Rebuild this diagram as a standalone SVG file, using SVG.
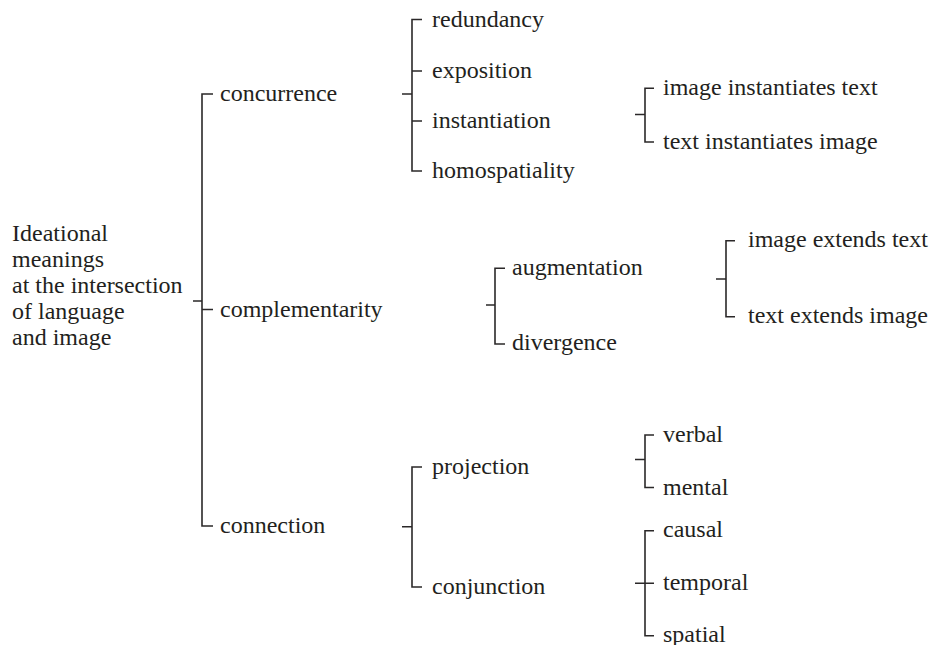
<svg xmlns="http://www.w3.org/2000/svg" width="930" height="645" viewBox="0 0 930 645">
<style>
  .t { font-size: 24px; fill: #231f20; }
  .br { fill: none; stroke: #2b2829; stroke-width: 1.6; }
</style>
<rect width="930" height="645" fill="#ffffff"/>
<g id="connectors">
  <path class="br" d="M193,301 H202 M213,94 H202 V526 H213 M202,309.5 H213"/>
  <path class="br" d="M402,94 H412 M422,19.5 H412 V171 H422 M412,71 H422 M412,121 H422"/>
  <path class="br" d="M635,114.5 H645 M654,88.3 H645 V142 H654"/>
  <path class="br" d="M486,305 H495 M505,268.3 H495 V344 H505"/>
  <path class="br" d="M716,279 H726 M735,240.7 H726 V316.7 H735"/>
  <path class="br" d="M402,526.7 H412 M422,467 H412 V587 H422"/>
  <path class="br" d="M635,459.5 H645 M654,435 H645 V487.5 H654"/>
  <path class="br" d="M635,583.3 H654 M654,530.7 H645 V635.7 H654"/>
</g>
<g class="t" font-family="Liberation Serif, serif">
<g id="root">
  <text x="12" y="241">Ideational</text>
  <text x="12" y="267">meanings</text>
  <text x="12" y="293">at the intersection</text>
  <text x="12" y="319">of language</text>
  <text x="12" y="345">and image</text>
</g>
<g id="concurrence"><text x="220" y="101">concurrence</text></g>
<g id="complementarity"><text x="220" y="317">complementarity</text></g>
<g id="connection"><text x="220" y="533">connection</text></g>
<g id="redundancy"><text x="432" y="27">redundancy</text></g>
<g id="exposition"><text x="432" y="78">exposition</text></g>
<g id="instantiation"><text x="432" y="128">instantiation</text></g>
<g id="homospatiality"><text x="432" y="178">homospatiality</text></g>
<g id="image-instantiates-text"><text x="663" y="95">image instantiates text</text></g>
<g id="text-instantiates-image"><text x="663" y="149">text instantiates image</text></g>
<g id="augmentation"><text x="512" y="274.5">augmentation</text></g>
<g id="divergence"><text x="512" y="350">divergence</text></g>
<g id="image-extends-text"><text x="748" y="247">image extends text</text></g>
<g id="text-extends-image"><text x="748" y="322.5">text extends image</text></g>
<g id="projection"><text x="432" y="474">projection</text></g>
<g id="conjunction"><text x="432" y="594">conjunction</text></g>
<g id="verbal"><text x="663" y="441.5">verbal</text></g>
<g id="mental"><text x="663" y="494.5">mental</text></g>
<g id="causal"><text x="663" y="537">causal</text></g>
<g id="temporal"><text x="663" y="590">temporal</text></g>
<g id="spatial"><text x="663" y="642">spatial</text></g>
</g>
</svg>
